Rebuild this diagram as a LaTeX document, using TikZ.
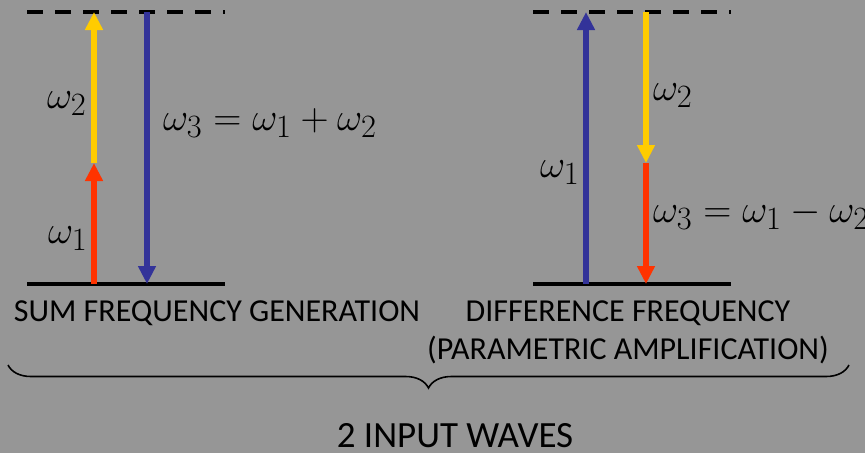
\documentclass[tikz,border=0pt]{standalone}
\usepackage[no-math]{fontspec}
\newfontfamily\calfont{Carlito}
\usetikzlibrary{arrows.meta,decorations.pathreplacing}
\definecolor{slide}{RGB}{150,150,150}
\definecolor{wred}{RGB}{255,51,0}
\definecolor{wyellow}{RGB}{255,204,0}
\definecolor{wblue}{RGB}{51,51,153}
\newcommand{\freqmath}[1]{\scalebox{1.567}{$#1$}}
\begin{document}
\begin{tikzpicture}
[x=1pt, y=-1pt, font=\fontsize{32}{34}\selectfont\calfont]
\tikzstyle{level}=[line width=4pt]
\tikzstyle{virtual}=[line width=4pt, dash pattern=on 16pt off 12pt]
\tikzstyle{wave}=[line width=6pt, -{Triangle[length=18pt,width=17pt]}]
\tikzstyle{freq}=[anchor=base west, inner sep=0pt, font=\fontsize{24.88}{26}\selectfont]
\useasboundingbox (0,0) rectangle (865,453);
\fill[slide] (0,0) rectangle (865,453);

% sum frequency generation
\coordinate (SG0) at (27,284);
\coordinate (SG1) at (225,284);
\coordinate (SV0) at (27,12);
\coordinate (SV1) at (225,12);
\coordinate (S1) at (94,284);
\coordinate (S2) at (94,163);
\coordinate (S3) at (94,12);
\coordinate (S4) at (147,12);
\coordinate (S5) at (147,284);

\draw[level] (SG0)--(SG1);
\draw[virtual] (SV0)--(SV1);
\draw[wave,wred] (S1)--(S2);
\draw[wave,wyellow] (S2)--(S3);
\draw[wave,wblue] (S4)--(S5);

\node[freq] (Sw2) at (47,108) {\freqmath{\omega_2}};
\node[freq] (Sw1) at (48,243) {\freqmath{\omega_1}};
\node[freq] (Sw3) at (163,130) {\freqmath{\omega_3=\omega_1+\omega_2}};

% difference frequency
\coordinate (DG0) at (533,284);
\coordinate (DG1) at (731,284);
\coordinate (DV0) at (533,12);
\coordinate (DV1) at (731,12);
\coordinate (D1) at (586,284);
\coordinate (D2) at (586,12);
\coordinate (D3) at (646,12);
\coordinate (D4) at (646,163);
\coordinate (D5) at (646,284);

\draw[level] (DG0)--(DG1);
\draw[virtual] (DV0)--(DV1);
\draw[wave,wblue] (D1)--(D2);
\draw[wave,wyellow] (D3)--(D4);
\draw[wave,wred] (D4)--(D5);

\node[freq] (Dw2) at (653,100) {\freqmath{\omega_2}};
\node[freq] (Dw1) at (540,177) {\freqmath{\omega_1}};
\node[freq] (Dw3) at (653,222) {\freqmath{\omega_3=\omega_1-\omega_2}};

% captions
\node (sfg) at (217,313) {SUM FREQUENCY GENERATION};
\node (dfg) at (628,313) {DIFFERENCE FREQUENCY};
\node (opa) at (628,350) {(PARAMETRIC AMPLIFICATION)};
\coordinate (B0) at (8,365);
\coordinate (B1) at (849,365);
\draw[line width=1.6pt, decorate, decoration={brace, mirror, amplitude=23pt}] (B0)--(B1);
\node[font=\fontsize{37}{39}\selectfont\calfont, inner sep=0pt] (inp) at (455,436) {2 INPUT WAVES};
\end{tikzpicture}
\end{document}
